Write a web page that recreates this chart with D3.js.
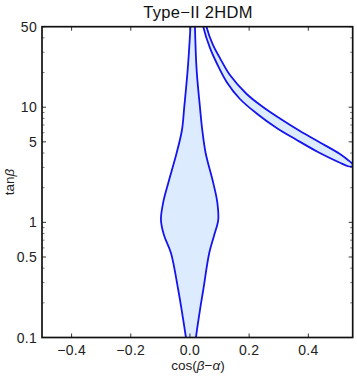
<!DOCTYPE html>
<html>
<head>
<meta charset="utf-8">
<script src="https://cdn.jsdelivr.net/npm/d3@7"></script>
<style>
  html, body { margin: 0; padding: 0; background: #fff; }
  svg { display: block; font-family: "Liberation Sans", Arial, sans-serif; }
</style>
</head>
<body>
<svg id="chart" width="357" height="377"></svg>
<script>
// ---- data ----
const title = "Type\u2212II 2HDM";
const xDomain = [-0.5, 0.55];
const yDomain = [0.1, 50];
const xTicks = [-0.4, -0.2, 0.0, 0.2, 0.4];
const yTicks = [0.1, 0.5, 1, 5, 10, 50];
const yMinorTicks = [0.2, 0.3, 0.4, 0.6, 0.7, 0.8, 0.9, 2, 3, 4, 6, 7, 8, 9, 20, 30, 40];

// central allowed region (spindle)
const spindleTan      = [60, 50, 21, 10, 6.34, 4.0, 2.2, 1.5, 1.05, 0.776, 0.542, 0.2585, 0.173, 0.1, 0.09];
const spindleLeftCos  = [0.003, 0.0017, -0.0078, -0.0193, -0.027, -0.045, -0.0733, -0.0902, -0.098, -0.0879, -0.0642, -0.0395, -0.028, -0.0135, -0.011];
const spindleRightCos = [0.0165, 0.0169, 0.0226, 0.0338, 0.0416, 0.053, 0.0787, 0.0923, 0.0956, 0.0821, 0.0652, 0.0449, 0.0338, 0.0203, 0.019];

// wrong-sign band
const bandOuterCos = [0.050, 0.0558, 0.0777, 0.1014, 0.1352, 0.1916, 0.2467, 0.3042, 0.3718, 0.4394, 0.5069, 0.5339, 0.5458, 0.5509];
const bandOuterTan = [60, 50, 34.7, 26.7, 19.0, 13.02, 10.04, 7.98, 6.21, 4.94, 3.92, 3.48, 3.29, 3.15];
const bandInnerCos = [0.5458, 0.534, 0.5069, 0.4325, 0.3583, 0.293, 0.2254, 0.169, 0.124, 0.0902, 0.0676, 0.045, 0.040];
const bandInnerTan = [3.05, 3.07, 3.29, 4.08, 5.24, 6.60, 8.82, 11.78, 16.55, 24.2, 32.7, 50, 60];

// ---- layout ----
const W = 357, H = 377;
const m = { left: 42, right: 357 - 352.7, top: 26.7, bottom: 377 - 337.5 };
const svg = d3.select("#chart");

const x = d3.scaleLinear().domain(xDomain).range([m.left, W - m.right]);
const y = d3.scaleLog().domain(yDomain).range([H - m.bottom, m.top]);

const fillC = "#dcebfd", strokeC = "#1414f0";

svg.append("defs").append("clipPath").attr("id", "clip")
  .append("rect").attr("x", x.range()[0]).attr("y", y.range()[1])
  .attr("width", x.range()[1] - x.range()[0]).attr("height", y.range()[0] - y.range()[1]);

const g = svg.append("g").attr("clip-path", "url(#clip)");
const line = d3.line().x(d => x(d[0])).y(d => y(d[1])).curve(d3.curveCatmullRom.alpha(0.5));

const spindle = spindleTan.map((t, i) => [spindleLeftCos[i], t])
  .concat(spindleTan.map((t, i) => [spindleRightCos[i], t]).reverse());
const band = bandOuterCos.map((c, i) => [c, bandOuterTan[i]])
  .concat(bandInnerCos.map((c, i) => [c, bandInnerTan[i]]));

[spindle, band].forEach(pts => {
  g.append("path").attr("d", line(pts) + "Z")
    .attr("fill", fillC).attr("stroke", strokeC).attr("stroke-width", 1.8)
    .attr("stroke-linejoin", "round");
});

// ---- frame ----
const fx0 = x.range()[0], fx1 = x.range()[1], fy0 = y.range()[1], fy1 = y.range()[0];
const tickC = "#333";
xTicks.forEach(v => {
  svg.append("line").attr("x1", x(v)).attr("x2", x(v)).attr("y1", fy1).attr("y2", fy1 - 4).attr("stroke", tickC);
  svg.append("line").attr("x1", x(v)).attr("x2", x(v)).attr("y1", fy0).attr("y2", fy0 + 4).attr("stroke", tickC);
});
yTicks.forEach(v => {
  svg.append("line").attr("x1", fx0).attr("x2", fx0 + 4).attr("y1", y(v)).attr("y2", y(v)).attr("stroke", tickC);
  svg.append("line").attr("x1", fx1).attr("x2", fx1 - 4).attr("y1", y(v)).attr("y2", y(v)).attr("stroke", tickC);
});
yMinorTicks.forEach(v => {
  svg.append("line").attr("x1", fx0).attr("x2", fx0 + 2.5).attr("y1", y(v)).attr("y2", y(v)).attr("stroke", "#555").attr("stroke-width", 0.8);
  svg.append("line").attr("x1", fx1).attr("x2", fx1 - 2.5).attr("y1", y(v)).attr("y2", y(v)).attr("stroke", "#555").attr("stroke-width", 0.8);
});
svg.append("rect").attr("x", fx0).attr("y", fy0).attr("width", fx1 - fx0).attr("height", fy1 - fy0)
  .attr("fill", "none").attr("stroke", "#111").attr("stroke-width", 1.7);

// tick labels
const fmtX = v => (v < 0 ? "\u2212" : "") + Math.abs(v).toFixed(1);
xTicks.forEach(v => {
  svg.append("text").attr("x", x(v)).attr("y", fy1 + 17).attr("text-anchor", "middle")
    .attr("font-size", 14).attr("letter-spacing", 0.3).attr("fill", "#222").text(fmtX(v));
});
yTicks.forEach(v => {
  svg.append("text").attr("x", fx0 - 5).attr("y", y(v) + 5).attr("text-anchor", "end")
    .attr("font-size", 14).attr("letter-spacing", 0.3).attr("fill", "#222").text(String(v));
});

// title and axis labels
svg.append("text").attr("x", 198).attr("y", 18).attr("text-anchor", "middle")
  .attr("font-size", 16.5).attr("letter-spacing", 0.3).attr("fill", "#111").text(title);

const xl = svg.append("text").attr("x", 198).attr("y", 370).attr("text-anchor", "middle")
  .attr("font-size", 13.5).attr("fill", "#222");
xl.append("tspan").text("cos(");
xl.append("tspan").attr("font-style", "italic").text("\u03B2");
xl.append("tspan").text("\u2212");
xl.append("tspan").attr("font-style", "italic").text("\u03B1");
xl.append("tspan").text(")");

const yl = svg.append("text").attr("transform", `translate(13.5,${(fy0 + fy1) / 2}) rotate(-90)`)
  .attr("text-anchor", "middle").attr("font-size", 13.5).attr("fill", "#222");
yl.append("tspan").text("tan");
yl.append("tspan").attr("font-style", "italic").text("\u03B2");
</script>
</body>
</html>
